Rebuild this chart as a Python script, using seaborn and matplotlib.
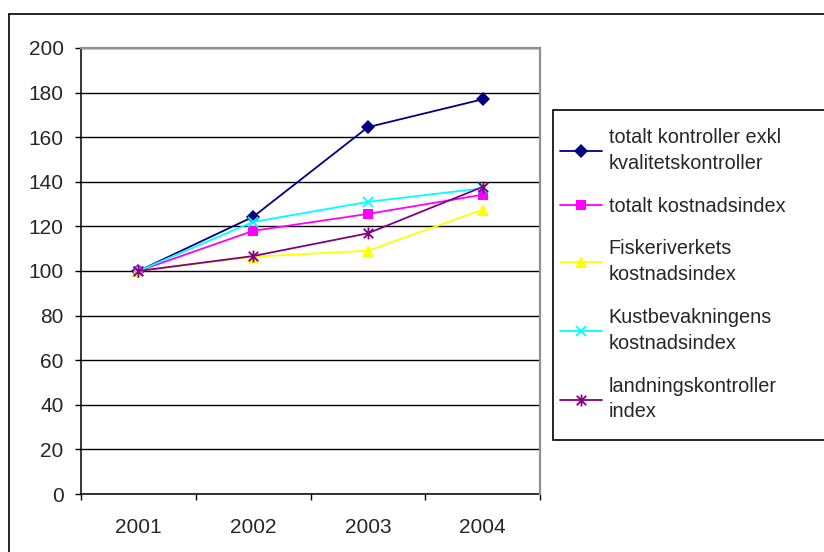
import matplotlib
matplotlib.use("Agg")
import matplotlib.pyplot as plt
from matplotlib.lines import Line2D
from matplotlib.patches import Rectangle
from matplotlib.path import Path
import seaborn as sns
import pandas as pd

sns.set_style("white")
plt.rcParams["font.family"] = ["Liberation Sans", "DejaVu Sans"]

# Index values per year (2001 = 100)
years = ["2001", "2002", "2003", "2004"]
totalt_kontroller = [100, 124.3, 164.5, 177.0]
totalt_kostnadsindex = [100, 118.0, 125.6, 134.2]
fiskeriverkets = [100, 106.4, 109.1, 127.5]
kustbevakningens = [100, 122.0, 131.0, 137.1]
landningskontroller = [100, 106.7, 116.9, 137.7]

labels = [
    "totalt kontroller exkl\nkvalitetskontroller",
    "totalt kostnadsindex",
    "Fiskeriverkets\nkostnadsindex",
    "Kustbevakningens\nkostnadsindex",
    "landningskontroller\nindex",
]
series = [totalt_kontroller, totalt_kostnadsindex, fiskeriverkets,
          kustbevakningens, landningskontroller]

# Asterisk marker: vertical bar plus a cross
asterisk = Path(
    [(0, -1), (0, 1), (-0.8, -0.8), (0.8, 0.8), (-0.8, 0.8), (0.8, -0.8)],
    [Path.MOVETO, Path.LINETO, Path.MOVETO, Path.LINETO, Path.MOVETO, Path.LINETO],
)

colors = ["#000080", "#FF00FF", "#FFFF00", "#00FFFF", "#800080"]
styles = [
    dict(marker="D", markersize=7.2, markeredgewidth=0),
    dict(marker="s", markersize=7.0, markeredgewidth=0),
    dict(marker="^", markersize=9.0, markeredgewidth=0),
    dict(marker="x", markersize=7.5, markeredgewidth=1.3),
    dict(marker=asterisk, markersize=8.5, markeredgewidth=1.3),
]

frames = []
for lab, vals in zip(labels, series):
    frames.append(pd.DataFrame({"year": years, "value": vals, "serie": lab}))
df = pd.concat(frames, ignore_index=True)

fig = plt.figure(figsize=(8.24, 5.52), dpi=100)
W, H = 824, 552
ax = fig.add_axes([81 / W, (H - 494) / H, (540 - 81) / W, (494 - 48) / H])

for lab, col, st in zip(labels, colors, styles):
    sub = df[df["serie"] == lab]
    sns.lineplot(data=sub, x="year", y="value", ax=ax, label=lab,
                 linewidth=1.3, sort=False, color=col,
                 markeredgecolor=col, markerfacecolor=col, **st)

ax.set_xlim(-0.5, 3.5)
ax.set_ylim(0, 200)
ax.set_xlabel("")
ax.set_ylabel("")

ax.set_yticks(range(0, 201, 20))
ax.tick_params(axis="y", direction="out", length=4.5, width=1, color="black",
               labelsize=15, pad=8, left=True)
ax.set_xticks([-0.5, 0.5, 1.5, 2.5, 3.5])
ax.set_xticklabels([])
ax.set_xticks(range(len(years)), minor=True)
ax.set_xticklabels(years, minor=True)
ax.tick_params(axis="x", which="major", direction="out", length=4.5, width=1,
               color="black", bottom=True)
ax.tick_params(axis="x", which="minor", length=0, labelsize=15, pad=17)

ax.yaxis.grid(True, color="black", linewidth=1)
ax.xaxis.grid(False)
ax.set_axisbelow(True)

for side in ["left", "bottom"]:
    ax.spines[side].set_color("black")
    ax.spines[side].set_linewidth(1.1)
for side in ["top", "right"]:
    ax.spines[side].set_color("#909090")
    ax.spines[side].set_linewidth(1.6)
    ax.spines[side].set_zorder(3)

# Legend box drawn as its own rectangle (behind the axes' legend entries)
fig.add_artist(Rectangle((552.5 / W, 1 - 439.5 / H), (840 - 552.5) / W, (439.5 - 109.5) / H,
                         transform=fig.transFigure, facecolor="white",
                         edgecolor="black", linewidth=1.2, zorder=-1))
leg = ax.legend(loc="upper left", bbox_to_anchor=(560 / W, 1 - 128 / H),
                bbox_transform=fig.transFigure, borderaxespad=0, borderpad=0,
                fontsize=14.3, frameon=False,
                handlelength=2.1, handletextpad=0.35, labelspacing=1.2)
for t in leg.get_texts():
    t.set_linespacing(1.45)

# Outer chart border (left and top edges)
fig.add_artist(Line2D([8.5 / W, 8.5 / W], [0, 1 - 13.5 / H], transform=fig.transFigure,
                      color="black", linewidth=1.2))
fig.add_artist(Line2D([8.5 / W, 1], [1 - 13.5 / H, 1 - 13.5 / H], transform=fig.transFigure,
                      color="black", linewidth=1.2))

fig.savefig("out.png", dpi=100)
